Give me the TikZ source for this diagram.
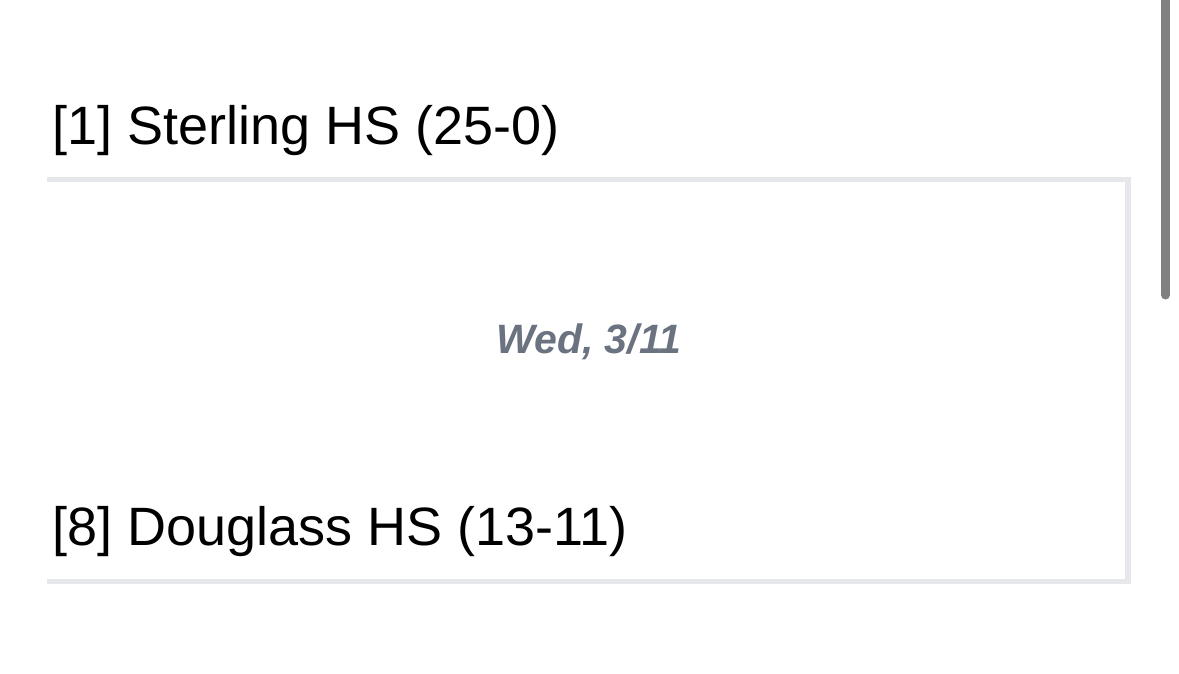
\documentclass[tikz,border=0pt]{standalone}
\usepackage{fontspec}
\setmainfont{Liberation Sans}
\definecolor{rulegray}{HTML}{E5E7EB}
\definecolor{dategray}{HTML}{6B7280}
\definecolor{scrollgray}{HTML}{808080}
\begin{document}
\begin{tikzpicture}[x=1pt,y=-1pt,
  team/.style={anchor=base west,inner sep=0pt,font=\fontsize{54}{60}\selectfont,text=black},
  datelbl/.style={anchor=base,inner sep=0pt,font=\fontsize{41}{46}\selectfont\bfseries\itshape,text=dategray},
  boxline/.style={draw=rulegray,line width=5.5pt,line join=miter},
  scroll/.style={draw=scrollgray,line width=9pt,line cap=round}]
\useasboundingbox[fill=white] (0,0) rectangle (1179,674);
\node[team] (t1) at (52,145) {[1] Sterling HS (25-0)};
\node[team] (t8) at (52,545) {[8] Douglass HS (13-11)};
\node[datelbl] (date) at (589,353) {Wed, 3/11};
\coordinate (tl) at (47,179.5);
\coordinate (tr) at (1128,179.5);
\coordinate (br) at (1128,581.5);
\coordinate (bl) at (47,581.5);
\draw[boxline] (tl) -- (tr) -- (br) -- (bl);
\coordinate (s1) at (1165.5,-10);
\coordinate (s2) at (1165.5,295);
\draw[scroll] (s1) -- (s2);
\end{tikzpicture}
\end{document}
